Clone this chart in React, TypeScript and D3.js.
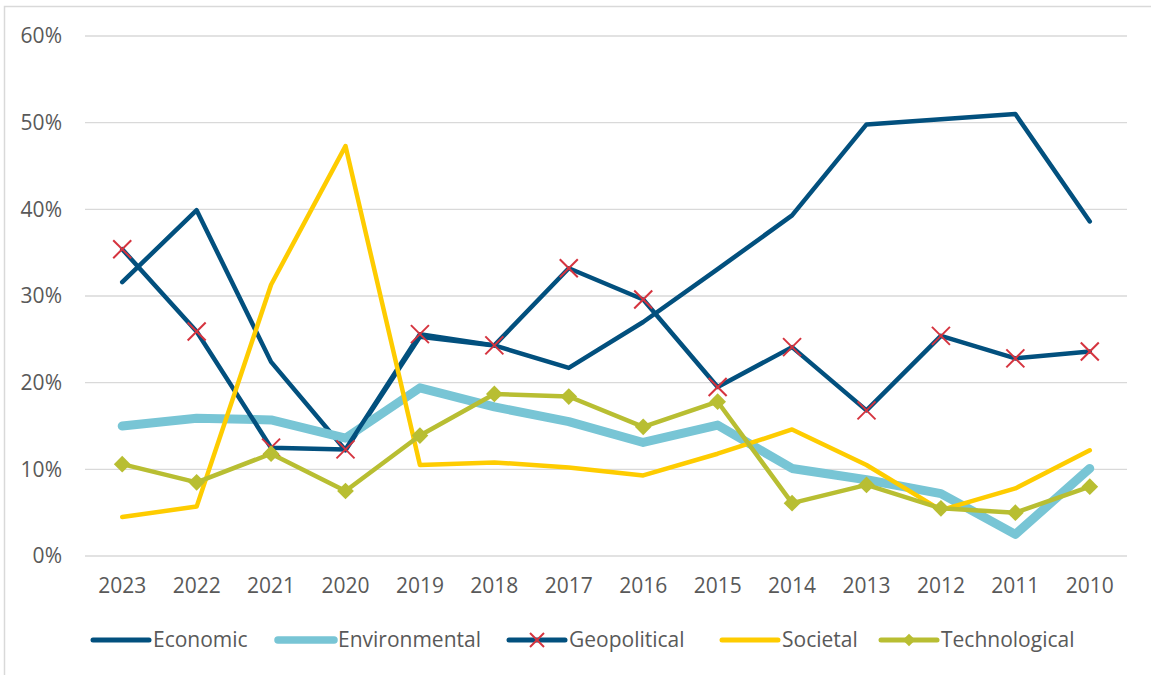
import React from "react";
import * as d3 from "d3";

const years = ["2023", "2022", "2021", "2020", "2019", "2018", "2017", "2016", "2015", "2014", "2013", "2012", "2011", "2010"];
const economic = [31.6, 39.9, 22.4, 12.2, 25.3, 24.3, 21.7, 27.0, 33.1, 39.3, 49.8, 50.4, 51.0, 38.6];
const environmental = [15.0, 15.9, 15.7, 13.6, 19.4, 17.2, 15.5, 13.1, 15.1, 10.1, 8.8, 7.2, 2.5, 10.1];
const geopolitical = [35.4, 25.9, 12.5, 12.3, 25.6, 24.3, 33.2, 29.6, 19.5, 24.1, 16.8, 25.4, 22.8, 23.6];
const societal = [4.5, 5.7, 31.3, 47.3, 10.5, 10.8, 10.2, 9.3, 11.8, 14.6, 10.5, 5.3, 7.8, 12.2];
const technological = [10.6, 8.5, 11.8, 7.5, 13.9, 18.7, 18.4, 14.9, 17.8, 6.1, 8.2, 5.5, 5.0, 8.0];
const yTicks = [0, 10, 20, 30, 40, 50, 60];

type Marker = "none" | "x" | "diamond";
interface Series {
  name: string;
  values: number[];
  color: string;
  width: number;
  marker: Marker;
}

const series: Series[] = [
  { name: "Economic", values: economic, color: "#02507E", width: 4.5, marker: "none" },
  { name: "Environmental", values: environmental, color: "#78C5D5", width: 9, marker: "none" },
  { name: "Geopolitical", values: geopolitical, color: "#02507E", width: 4.5, marker: "x" },
  { name: "Societal", values: societal, color: "#FECC00", width: 4.5, marker: "none" },
  { name: "Technological", values: technological, color: "#B8BE32", width: 4.5, marker: "diamond" },
];

const W = 1151;
const H = 675;
const plot = { left: 85, right: 1127, top: 36, bottom: 556 };
const font = "'Open Sans', sans-serif";
const fontSize = 21;
const textColor = "#595959";
const gridColor = "#D9D9D9";
const xColor = "#D5333E";

// legend item positions (line start x)
const legendX = [93, 278, 509, 722, 881];
const legendY = 640;

const MarkerShape: React.FC<{ type: Marker; x: number; y: number; color: string; size?: number }> = ({
  type,
  x,
  y,
  color,
  size,
}) => {
  if (type === "x") {
    const r = size ?? 9;
    return (
      <g stroke={xColor} strokeWidth={2}>
        <line x1={x - r} y1={y - r} x2={x + r} y2={y + r} />
        <line x1={x - r} y1={y + r} x2={x + r} y2={y - r} />
      </g>
    );
  }
  if (type === "diamond") {
    const sq = d3.symbol().type(d3.symbolSquare).size(size ?? 140)();
    return <path d={sq || ""} transform={`translate(${x},${y}) rotate(45)`} fill={color} />;
  }
  return null;
};

export default function App() {
  const x = d3.scalePoint<string>().domain(years).range([plot.left, plot.right]).padding(0.5);
  const y = d3.scaleLinear().domain([0, 60]).range([plot.bottom, plot.top]);

  const line = d3
    .line<number>()
    .x((_, i) => x(years[i])!)
    .y((d) => y(d));

  return (
    <svg width={W} height={H} style={{ position: "absolute", left: 0, top: 0, background: "#fff" }}>
      <rect x={4.5} y={6.5} width={W + 10} height={H + 10} fill="#fff" stroke={gridColor} strokeWidth={1.5} />

      {/* grid */}
      {yTicks.map((t) => (
        <g key={t}>
          <line x1={plot.left} x2={plot.right} y1={y(t)} y2={y(t)} stroke={gridColor} strokeWidth={1.4} />
          <text
            x={62}
            y={y(t)}
            dy="0.35em"
            textAnchor="end"
            fontFamily={font}
            fontSize={fontSize}
            fill={textColor}
          >
            {t}%
          </text>
        </g>
      ))}

      {/* x labels */}
      {years.map((yr) => (
        <text key={yr} x={x(yr)} y={593} textAnchor="middle" fontFamily={font} fontSize={fontSize} fill={textColor}>
          {yr}
        </text>
      ))}

      {/* lines */}
      {series.map((s) => (
        <g key={s.name}>
          <path
            d={line(s.values) || ""}
            fill="none"
            stroke={s.color}
            strokeWidth={s.width}
            strokeLinejoin="round"
            strokeLinecap="round"
          />
          {s.marker !== "none" &&
            s.values.map((v, i) => (
              <MarkerShape key={i} type={s.marker} x={x(years[i])!} y={y(v)} color={s.color} />
            ))}
        </g>
      ))}

      {/* legend */}
      {series.map((s, i) => (
        <g key={s.name} transform={`translate(${legendX[i]},${legendY})`}>
          <line
            x1={0}
            x2={56}
            y1={0}
            y2={0}
            stroke={s.color}
            strokeWidth={s.width === 9 ? 7.5 : 5}
            strokeLinecap="round"
          />
          <MarkerShape type={s.marker} x={28} y={0} color={s.color} size={s.marker === "x" ? 7 : 80} />
          <text x={60} y={7} fontFamily={font} fontSize={fontSize} fill={textColor}>
            {s.name}
          </text>
        </g>
      ))}
    </svg>
  );
}
